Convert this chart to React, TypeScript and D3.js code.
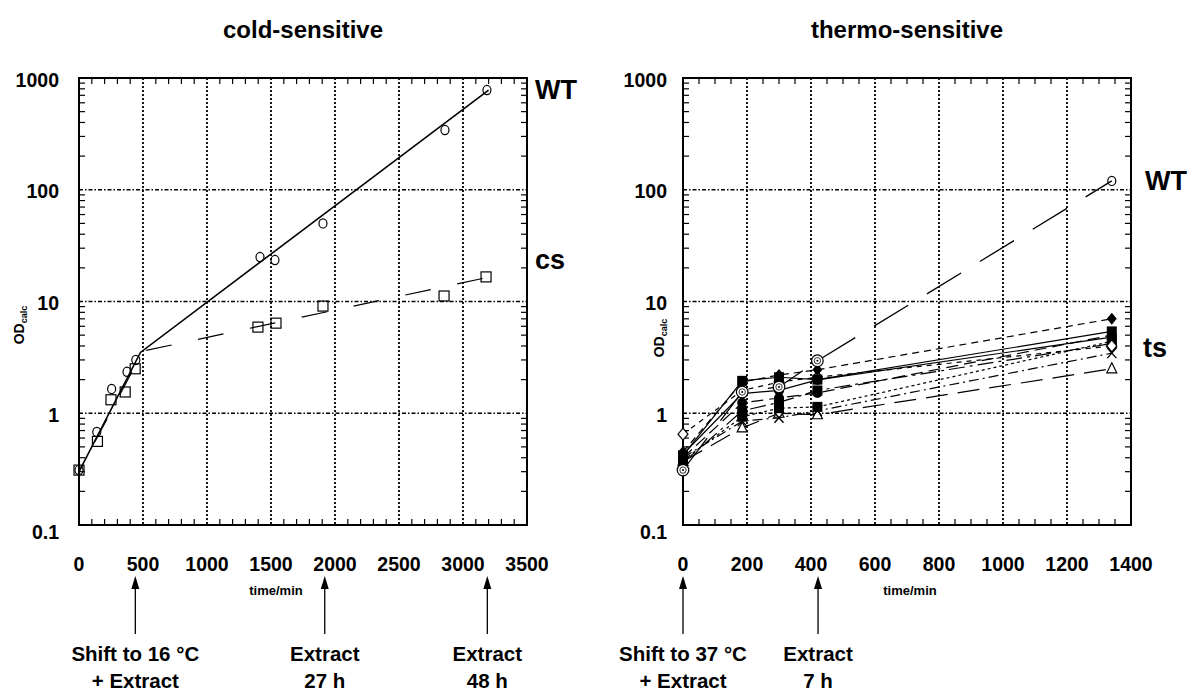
import React from "react";
import * as d3 from "d3";

// ---------- data ----------
const yTickValues = [0.1, 1, 10, 100, 1000];
const yTickLabels = ["0.1", "1", "10", "100", "1000"];
const coldXTicks = [0, 500, 1000, 1500, 2000, 2500, 3000, 3500];
const hotXTicks = [0, 200, 400, 600, 800, 1000, 1200, 1400];

// cold-sensitive panel
const wtColdTimes = [0, 139, 255, 375, 444, 1414, 1531, 1906, 2859, 3187];
const wtColdValues = [0.31, 0.68, 1.65, 2.35, 3.0, 25, 23.5, 50, 342, 780];
const csColdTimes = [0, 144, 250, 361, 439, 1398, 1539, 1906, 2852, 3180];
const csColdValues = [0.31, 0.56, 1.32, 1.55, 2.5, 5.9, 6.4, 9.1, 11.2, 16.6];
const wtColdFitTimes = [0, 480, 3200];
const wtColdFitValues = [0.3, 3.5, 780];
const csColdFitTimes = [0, 500, 3200];
const csColdFitValues = [0.3, 3.6, 16.5];

// thermo-sensitive panel
const tsTimes = [0, 185, 300, 420, 1340];
const wtHotValues = [0.31, 1.55, 1.72, 2.95, 120];
const tsDiamondValues = [0.45, 1.9, 2.2, 2.45, 7.0];
const tsSquareAValues = [0.42, 1.95, 2.1, 2.0, 5.4];
const tsCircleAValues = [0.4, 1.24, 1.37, 1.52, 5.0];
const tsSquareBValues = [0.38, 0.93, 1.11, 1.14, 4.4];
const tsCrossValues = [0.4, 0.85, 0.91, 1.05, 3.45];
const tsTriangleValues = [0.37, 0.74, 1.0, 0.97, 2.5];
const tsOpenDiamondValues = [0.65, 1.6, 1.9, 2.1, 4.0];
const tsSquareCValues = [0.36, 1.05, 1.25, 1.6, 4.2];
const tsCircleBValues = [0.43, 1.5, 1.6, 1.99, 4.8];

const tsSeries = [
  { values: tsTriangleValues, marker: "triangle", dash: "22,10" },
  { values: tsCrossValues, marker: "cross", dash: "10,4,2,4" },
  { values: tsSquareBValues, marker: "fsquare", dash: "3,3" },
  { values: tsSquareCValues, marker: "fsquare", dash: "16,5,3,5" },
  { values: tsCircleAValues, marker: "fcircle", dash: "12,6" },
  { values: tsCircleBValues, marker: "fcircle", dash: "" },
  { values: tsOpenDiamondValues, marker: "odiamond", dash: "5,5" },
  { values: tsSquareAValues, marker: "fsquare", dash: "" },
  { values: tsDiamondValues, marker: "fdiamond", dash: "7,5" },
];

// ---------- layout ----------
const W = 1193;
const H = 690;
const FONT = "'Liberation Sans', Arial, Helvetica, sans-serif";
const yScale = d3.scaleLog().domain([0.1, 1000]).range([525, 78]);
const xCold = d3.scaleLinear().domain([0, 3500]).range([79, 527]);
const xHot = d3.scaleLinear().domain([0, 1400]).range([683, 1131]);

function Marker({ kind, x, y }: { kind: string; x: number; y: number }) {
  const sw = 1.2;
  switch (kind) {
    case "circle":
      return <ellipse cx={x} cy={y} rx={4} ry={4.6} fill="none" stroke="#000" strokeWidth={sw} />;
    case "square":
      return <rect x={x - 5} y={y - 5} width={10} height={10} fill="none" stroke="#000" strokeWidth={sw} />;
    case "circledot":
      return (
        <g>
          <circle cx={x} cy={y} r={5.8} fill="#fff" stroke="#000" strokeWidth={sw} />
          <circle cx={x} cy={y} r={3.2} fill="#fff" stroke="#000" strokeWidth={0.8} />
          <circle cx={x} cy={y} r={1} fill="#000" />
        </g>
      );
    case "fsquare":
      return <rect x={x - 5} y={y - 5} width={10} height={10} fill="#000" />;
    case "fcircle":
      return <circle cx={x} cy={y} r={5} fill="#000" />;
    case "fdiamond":
      return <path d={`M${x},${y - 6}L${x + 5},${y}L${x},${y + 6}L${x - 5},${y}Z`} fill="#000" />;
    case "odiamond":
      return <path d={`M${x},${y - 6}L${x + 5},${y}L${x},${y + 6}L${x - 5},${y}Z`} fill="#fff" stroke="#000" strokeWidth={sw} />;
    case "triangle":
      return <path d={`M${x},${y - 6}L${x + 5},${y + 4}L${x - 5},${y + 4}Z`} fill="#fff" stroke="#000" strokeWidth={sw} />;
    case "cross":
      return (
        <path d={`M${x - 4.5},${y - 5}L${x + 4.5},${y + 5}M${x + 4.5},${y - 5}L${x - 4.5},${y + 5}`} stroke="#000" strokeWidth={1.4} fill="none" />
      );
    default:
      return null;
  }
}

function Frame({
  x,
  majors,
  minorStep,
  yLabelX,
}: {
  x: d3.ScaleLinear<number, number>;
  majors: number[];
  minorStep: number;
  yLabelX: number;
}) {
  const [x0, x1] = x.range();
  const yb = yScale(0.1);
  const yt = yScale(1000);
  const dmax = x.domain()[1];
  const minorX = d3.range(0, dmax + minorStep / 2, minorStep).filter((v) => !majors.includes(v));
  const minorY: number[] = [];
  [0.1, 1, 10, 100].forEach((d) => {
    for (let k = 2; k <= 9; k++) minorY.push(d * k);
  });
  const tl = 6;
  return (
    <g>
      {majors.slice(1, -1).map((v) => (
        <line key={"vg" + v} x1={x(v)} x2={x(v)} y1={yt} y2={yb} stroke="#000" strokeWidth={1.8} strokeDasharray="2,2" />
      ))}
      {yTickValues.slice(1, -1).map((v) => (
        <line key={"hg" + v} x1={x0} x2={x1} y1={yScale(v)} y2={yScale(v)} stroke="#000" strokeWidth={1.6} strokeDasharray="4,2,1.5,2" />
      ))}
      {minorX.map((v) => (
        <g key={"mx" + v}>
          <line x1={x(v)} x2={x(v)} y1={yb} y2={yb - tl} stroke="#000" strokeWidth={1.2} />
          <line x1={x(v)} x2={x(v)} y1={yt} y2={yt + tl} stroke="#000" strokeWidth={1.2} />
        </g>
      ))}
      {minorY.map((v) => (
        <g key={"my" + v}>
          <line x1={x0} x2={x0 + tl} y1={yScale(v)} y2={yScale(v)} stroke="#000" strokeWidth={1.2} />
          <line x1={x1} x2={x1 - tl} y1={yScale(v)} y2={yScale(v)} stroke="#000" strokeWidth={1.2} />
        </g>
      ))}
      <rect x={x0} y={yt} width={x1 - x0} height={yb - yt} fill="none" stroke="#000" strokeWidth={2} />
      {yTickValues.map((v, i) => (
        <text key={"yl" + v} x={yLabelX} y={yScale(v) + (v === 0.1 ? 6.5 : 1.5) + 7} textAnchor="end" fontSize={19.5} fontWeight="bold" fontFamily={FONT}>
          {yTickLabels[i]}
        </text>
      ))}
      {majors.map((v) => (
        <text key={"xl" + v} x={x(v)} y={571} textAnchor="middle" fontSize={19.5} fontWeight="bold" fontFamily={FONT}>
          {String(v)}
        </text>
      ))}
    </g>
  );
}

function Arrow({ x }: { x: number }) {
  return (
    <g>
      <line x1={x} x2={x} y1={586} y2={634} stroke="#000" strokeWidth={1.3} />
      <path d={`M${x},576L${x + 4},589L${x - 4},589Z`} fill="#000" />
    </g>
  );
}

function Note({ x, lines }: { x: number; lines: string[] }) {
  return (
    <g fontFamily={FONT} fontWeight="bold" fontSize={20.5} textAnchor="middle">
      {lines.map((l, i) => (
        <text key={i} x={x} y={660.5 + i * 27}>
          {l}
        </text>
      ))}
    </g>
  );
}

function ODLabel({ x, y }: { x: number; y: number }) {
  return (
    <text transform={`translate(${x},${y}) rotate(-90)`} textAnchor="middle" fontFamily={FONT} fontWeight="bold" fontSize={14}>
      OD
      <tspan fontSize={9} dy={2.5}>
        calc
      </tspan>
    </text>
  );
}

export default function App() {
  const lineCold = d3
    .line<[number, number]>()
    .x((d) => xCold(d[0]))
    .y((d) => yScale(d[1]));
  const lineHot = d3
    .line<[number, number]>()
    .x((d) => xHot(d[0]))
    .y((d) => yScale(d[1]));

  const zip = (a: number[], b: number[]) => a.map((t, i) => [t, b[i]] as [number, number]);

  return (
    <svg width={W} height={H} style={{ position: "absolute", left: 0, top: 0, background: "#fff" }}>
      <rect x={0} y={0} width={W} height={H} fill="#fff" />
      {/* titles */}
      <text x={303} y={38} textAnchor="middle" fontFamily={FONT} fontWeight="bold" fontSize={24}>
        cold-sensitive
      </text>
      <text x={907} y={38} textAnchor="middle" fontFamily={FONT} fontWeight="bold" fontSize={24}>
        thermo-sensitive
      </text>

      {/* cold panel */}
      <Frame x={xCold} majors={coldXTicks} minorStep={100} yLabelX={59} />
      <path d={lineCold(zip(wtColdFitTimes, wtColdFitValues)) || ""} fill="none" stroke="#000" strokeWidth={1.6} />
      <path d={lineCold(zip(csColdFitTimes, csColdFitValues)) || ""} fill="none" stroke="#000" strokeWidth={1.2} strokeDasharray="26,27" strokeDashoffset={19.2} />
      {wtColdTimes.map((t, i) => (
        <Marker key={"wc" + i} kind="circle" x={xCold(t)} y={yScale(wtColdValues[i])} />
      ))}
      {csColdTimes.map((t, i) => (
        <Marker key={"cc" + i} kind="square" x={xCold(t)} y={yScale(csColdValues[i])} />
      ))}
      <ODLabel x={24} y={325} />
      <text x={276} y={595} textAnchor="middle" fontFamily={FONT} fontWeight="bold" fontSize={13}>
        time/min
      </text>
      <text x={535} y={99} fontFamily={FONT} fontWeight="bold" fontSize={27}>
        WT
      </text>
      <text x={535} y={269} fontFamily={FONT} fontWeight="bold" fontSize={27}>
        cs
      </text>
      <Arrow x={xCold(440)} />
      <Arrow x={xCold(1920)} />
      <Arrow x={xCold(3190)} />
      <Note x={xCold(440)} lines={["Shift to 16 °C", "+ Extract"]} />
      <Note x={xCold(1920)} lines={["Extract", "27 h"]} />
      <Note x={xCold(3190)} lines={["Extract", "48 h"]} />

      {/* hot panel */}
      <Frame x={xHot} majors={hotXTicks} minorStep={50} yLabelX={667} />
      {tsSeries.map((s, i) => (
        <path key={"tl" + i} d={lineHot(zip(tsTimes, s.values)) || ""} fill="none" stroke="#000" strokeWidth={1.2} strokeDasharray={s.dash || undefined} />
      ))}
      <path d={lineHot(zip(tsTimes, wtHotValues)) || ""} fill="none" stroke="#000" strokeWidth={1.3} strokeDasharray="40,22" />
      {tsSeries.map((s, i) =>
        tsTimes.map((t, j) => <Marker key={"tm" + i + "_" + j} kind={s.marker} x={xHot(t)} y={yScale(s.values[j])} />)
      )}
      {tsTimes.map((t, j) => (
        <Marker key={"wh" + j} kind={j === tsTimes.length - 1 ? "circle" : "circledot"} x={xHot(t)} y={yScale(wtHotValues[j])} />
      ))}
      <ODLabel x={664} y={338} />
      <text x={910} y={595} textAnchor="middle" fontFamily={FONT} fontWeight="bold" fontSize={13}>
        time/min
      </text>
      <text x={1145} y={190} fontFamily={FONT} fontWeight="bold" fontSize={27}>
        WT
      </text>
      <text x={1143} y={357} fontFamily={FONT} fontWeight="bold" fontSize={27}>
        ts
      </text>
      <Arrow x={xHot(0)} />
      <Arrow x={xHot(422)} />
      <Note x={xHot(0)} lines={["Shift to 37 °C", "+ Extract"]} />
      <Note x={xHot(422)} lines={["Extract", "7 h"]} />
    </svg>
  );
}
